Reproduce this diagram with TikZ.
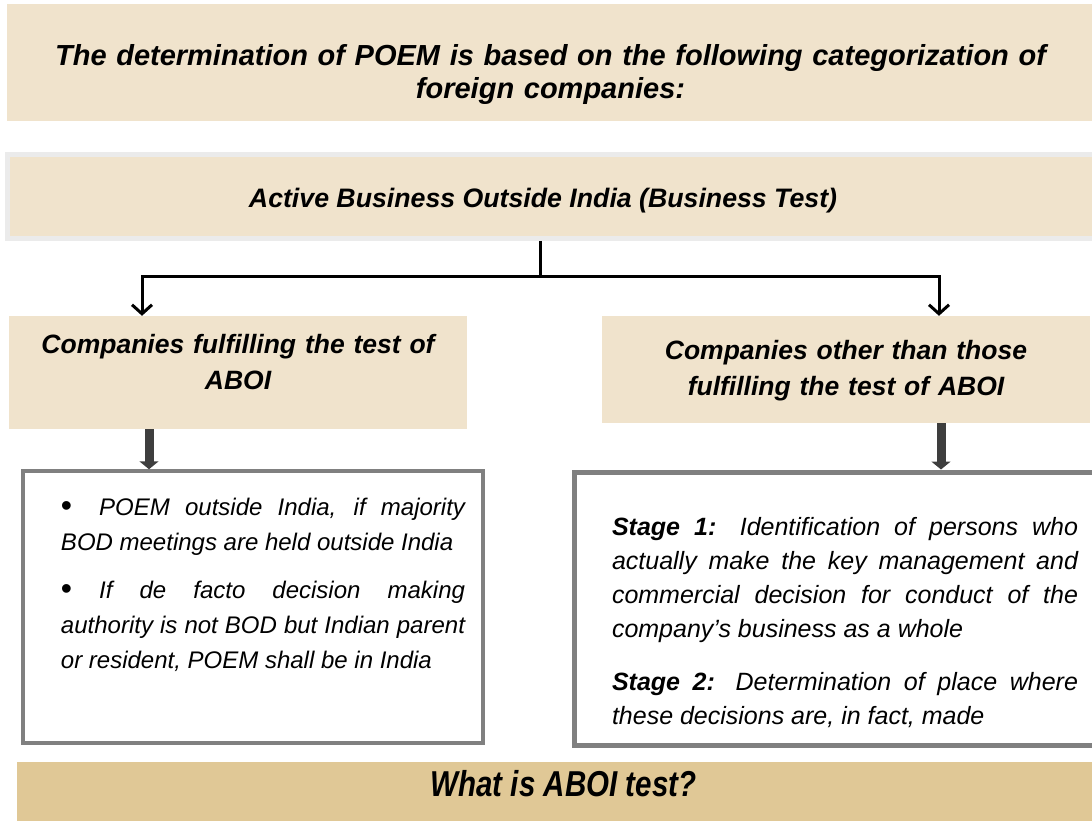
\documentclass[tikz,border=0pt]{standalone}
\usepackage{fontspec}
\setmainfont{Liberation Sans}
\newfontfamily\narrowfont[FakeStretch=0.82]{Liberation Sans}
\usetikzlibrary{arrows.meta}
\tolerance=9999
\hbadness=10000

\definecolor{paletan}{RGB}{240,227,204}
\definecolor{deeptan}{RGB}{224,200,150}
\definecolor{framegray}{RGB}{128,128,128}
\definecolor{arrowgray}{RGB}{62,62,62}

\newcommand{\dotmark}{\raisebox{-1.5pt}{\upshape\fontsize{32}{32}\selectfont\textbullet}\hspace{27pt}}

\tikzset{
  headbox/.style={fill=paletan, inner sep=0pt, align=center},
  listbox/.style={draw=framegray, fill=white, line width=3.5pt, inner sep=0pt, align=justify},
  branch/.style={line width=3pt},
  fatarrow/.style={draw=arrowgray, line width=9pt, -{Triangle[length=8pt,width=19pt]}}
}

\begin{document}
\begin{tikzpicture}[x=1pt,y=-1pt]
      \useasboundingbox (0,0) rectangle (1092,826);
      \node (poem) [headbox, minimum width=1087pt, minimum height=117pt, text width=1087pt,
        font=\fontsize{29}{32.5}\selectfont\bfseries\itshape, text height=20pt, text depth=13.6pt]
        at (550.5,62.5) {The determination of POEM is based on the following categorization of\\ foreign companies:};
      \node (abt) [headbox, draw=black!8, line width=5pt, minimum width=1092.5pt, minimum height=84pt,
        font=\fontsize{26.7}{30}\selectfont\bfseries\itshape, text height=26pt, text depth=4.4pt]
        at (553.75,196.5) {\hspace*{-21.5pt}Active Business Outside India (Business Test)};
      \node (fulfil) [headbox, minimum width=458pt, minimum height=113pt, text width=440pt,
        font=\fontsize{26.5}{36}\selectfont\bfseries\itshape, text height=20pt, text depth=59pt]
        at (238,372.5) {Companies fulfilling the test of\\ ABOI};
      \node (other) [headbox, minimum width=488pt, minimum height=107pt, text width=470pt,
        font=\fontsize{26.5}{36}\selectfont\bfseries\itshape, text height=20pt, text depth=40.4pt]
        at (846,369.5) {Companies other than those\\ fulfilling the test of ABOI};
      \node (rules) [listbox, minimum width=460pt, minimum height=272pt, text width=424pt,
        font=\fontsize{24}{35}\selectfont\itshape, text height=20pt, text depth=204pt]
        at (253,607) {\leftskip=20pt \dotmark POEM outside India, if majority\linebreak BOD meetings are held outside India\par\vspace{13pt}%
        \dotmark If de facto decision making\linebreak authority is not BOD but Indian parent\linebreak or resident, POEM shall be in India\par};
      \node (stages) [listbox, line width=5pt, minimum width=542pt, minimum height=273pt, text width=466pt,
        font=\fontsize{25}{34}\selectfont\itshape, text height=20pt, text depth=167pt]
        at (845,608.5) {\textbf{Stage 1:} Identification of persons who\linebreak actually make the key management and\linebreak commercial decision for conduct of the\linebreak company’s business as a whole\par\vspace{19pt}%
        \textbf{Stage 2:} Determination of place where\linebreak these decisions are, in fact, made};
      \node (aboi) [fill=deeptan, inner sep=0pt, minimum width=1093pt, minimum height=59pt,
        font=\fontsize{36}{40}\selectfont\narrowfont\bfseries\itshape, text height=26pt, text depth=15.6pt]
        at (563.5,791.5) {What is ABOI test?};
      \coordinate (split) at (540,277);
      \coordinate (lj) at (142,277);
      \coordinate (rj) at (939,277);
      \draw [branch] (abt.south -| split) -- (split);
      \draw [branch, -{Straight Barb[length=9pt,width=20pt]}] (split) -- (lj) -- (lj |- fulfil.north);
      \draw [branch, -{Straight Barb[length=9pt,width=20pt]}] (split) -- (rj) -- (rj |- other.north);
      \draw [fatarrow] ([xshift=-89pt]fulfil.south) -- ([xshift=-89pt]fulfil.south |- rules.north);
      \draw [fatarrow] ([xshift=95pt]other.south) -- ([xshift=95pt]other.south |- stages.north);
    \end{tikzpicture}
\end{document}
